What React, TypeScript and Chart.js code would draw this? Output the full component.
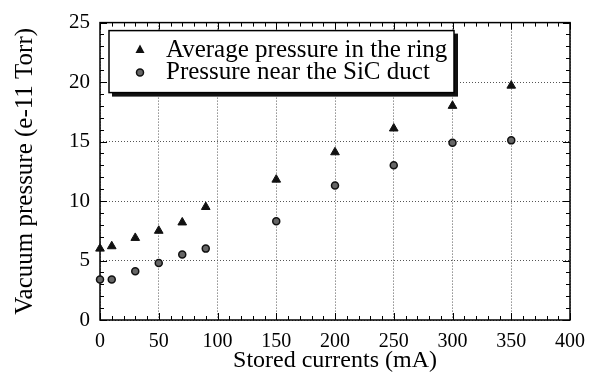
import React, { useEffect, useRef } from "react";
import Chart from "chart.js/auto";

const currents = [0, 10, 30, 50, 70, 90, 150, 200, 250, 300, 350];
const avgPressure = [6.0, 6.2, 6.9, 7.5, 8.2, 9.5, 11.8, 14.1, 16.1, 18.0, 19.7];
const ductPressure = [3.4, 3.4, 4.1, 4.8, 5.5, 6.0, 8.3, 11.3, 13.0, 14.9, 15.1];
const seriesLabels = ["Average pressure in the ring", "Pressure near the SiC duct"];
const xTitle = "Stored currents (mA)";
const yTitle = "Vacuum pressure (e-11 Torr)";

const FONT = "'Liberation Serif', 'Times New Roman', serif";

const framePlugin = {
  id: "frame",
  beforeDatasetsDraw(chart: any) {
    const { ctx, chartArea: a, scales } = chart;
    const xs = scales.x, ys = scales.y;
    ctx.save();
    ctx.strokeStyle = "#000";
    ctx.lineWidth = 1;
    ctx.beginPath();
    for (let v = 0; v <= 400; v += 10) {
      const px = Math.round(xs.getPixelForValue(v)) + 0.5;
      const len = v % 50 === 0 ? 7 : 4;
      ctx.moveTo(px, a.bottom); ctx.lineTo(px, a.bottom - len);
      ctx.moveTo(px, a.top); ctx.lineTo(px, a.top + len);
    }
    for (let v = 0; v <= 25; v += 1) {
      const py = Math.round(ys.getPixelForValue(v)) + 0.5;
      const len = v % 5 === 0 ? 7 : 4;
      ctx.moveTo(a.left, py); ctx.lineTo(a.left + len, py);
      ctx.moveTo(a.right, py); ctx.lineTo(a.right - len, py);
    }
    ctx.stroke();
    ctx.lineWidth = 1.5;
    ctx.strokeRect(a.left, a.top, a.right - a.left, a.bottom - a.top);

    // legend box
    const bx = a.left + 9, by = a.top + 8, bw = 345, bh = 62;
    ctx.fillStyle = "#111";
    ctx.fillRect(bx + 3, by + 3, bw + 1, bh + 1);
    ctx.fillStyle = "#fff";
    ctx.fillRect(bx, by, bw, bh);
    ctx.lineWidth = 1.5;
    ctx.strokeStyle = "#000";
    ctx.strokeRect(bx, by, bw, bh);
    const mx = bx + 31;
    const my = [by + 19, by + 42];
    ctx.beginPath();
    ctx.moveTo(mx, my[0] - 5);
    ctx.lineTo(mx + 4.5, my[0] + 3.5);
    ctx.lineTo(mx - 4.5, my[0] + 3.5);
    ctx.closePath();
    ctx.fillStyle = "#111";
    ctx.fill();
    ctx.beginPath();
    ctx.arc(mx, my[1], 3.5, 0, Math.PI * 2);
    ctx.fillStyle = "#666";
    ctx.fill();
    ctx.lineWidth = 1.5;
    ctx.strokeStyle = "#111";
    ctx.stroke();
    ctx.font = `25px ${FONT}`;
    ctx.fillStyle = "#000";
    ctx.textBaseline = "alphabetic";
    ctx.textAlign = "left";
    ctx.fillText(chart.data.datasets[0].label, bx + 57, by + 26);
    ctx.fillText(chart.data.datasets[1].label, bx + 57, by + 48);
    ctx.restore();
  },
};

export default function App() {
  const ref = useRef<HTMLCanvasElement | null>(null);
  useEffect(() => {
    if (!ref.current) return;
    const chart = new Chart(ref.current, {
      type: "scatter",
      data: {
        datasets: [
          {
            label: seriesLabels[0],
            data: currents.map((c, i) => ({ x: c, y: avgPressure[i] })),
            pointStyle: "triangle",
            pointRadius: 5,
            backgroundColor: "#111",
            borderColor: "#111",
            borderWidth: 1,
            clip: false,
          } as any,
          {
            label: seriesLabels[1],
            data: currents.map((c, i) => ({ x: c, y: ductPressure[i] })),
            pointStyle: "circle",
            pointRadius: 3.5,
            backgroundColor: "#666",
            borderColor: "#111",
            borderWidth: 1.5,
            clip: false,
          } as any,
        ],
      },
      options: {
        responsive: false,
        animation: false,
        layout: { padding: { top: 21, right: 23, left: 0, bottom: 0 } },
        plugins: { legend: { display: false }, tooltip: { enabled: false } },
        scales: {
          x: {
            type: "linear",
            min: 0,
            max: 400,
            ticks: { stepSize: 50, color: "#000", padding: 10, font: { family: FONT, size: 20 }, maxRotation: 0 },
            grid: { color: "#555", lineWidth: 1, drawTicks: false },
            border: { display: false, dash: [1, 2] },
            title: { display: true, text: xTitle, color: "#000", font: { family: FONT, size: 24, lineHeight: 1 }, padding: { bottom: 0, top: 0 } },
            afterFit(s: any) { s.height = 53; },
          },
          y: {
            type: "linear",
            min: 0,
            max: 25,
            ticks: { stepSize: 5, color: "#000", padding: 10, font: { family: FONT, size: 21 } },
            grid: { color: "#555", lineWidth: 1, drawTicks: false },
            border: { display: false, dash: [1, 2] },
            title: { display: true, text: yTitle, color: "#000", font: { family: FONT, size: 25, lineHeight: 1 }, padding: { top: 13, bottom: 0 } },
            afterFit(s: any) { s.width = 100; },
          },
        },
      },
      plugins: [framePlugin],
    } as any);
    return () => chart.destroy();
  }, []);
  return (
    <canvas
      ref={ref}
      width={595}
      height={373}
      style={{ position: "absolute", left: 0, top: 0, width: 595, height: 373, background: "#fff" }}
    />
  );
}
